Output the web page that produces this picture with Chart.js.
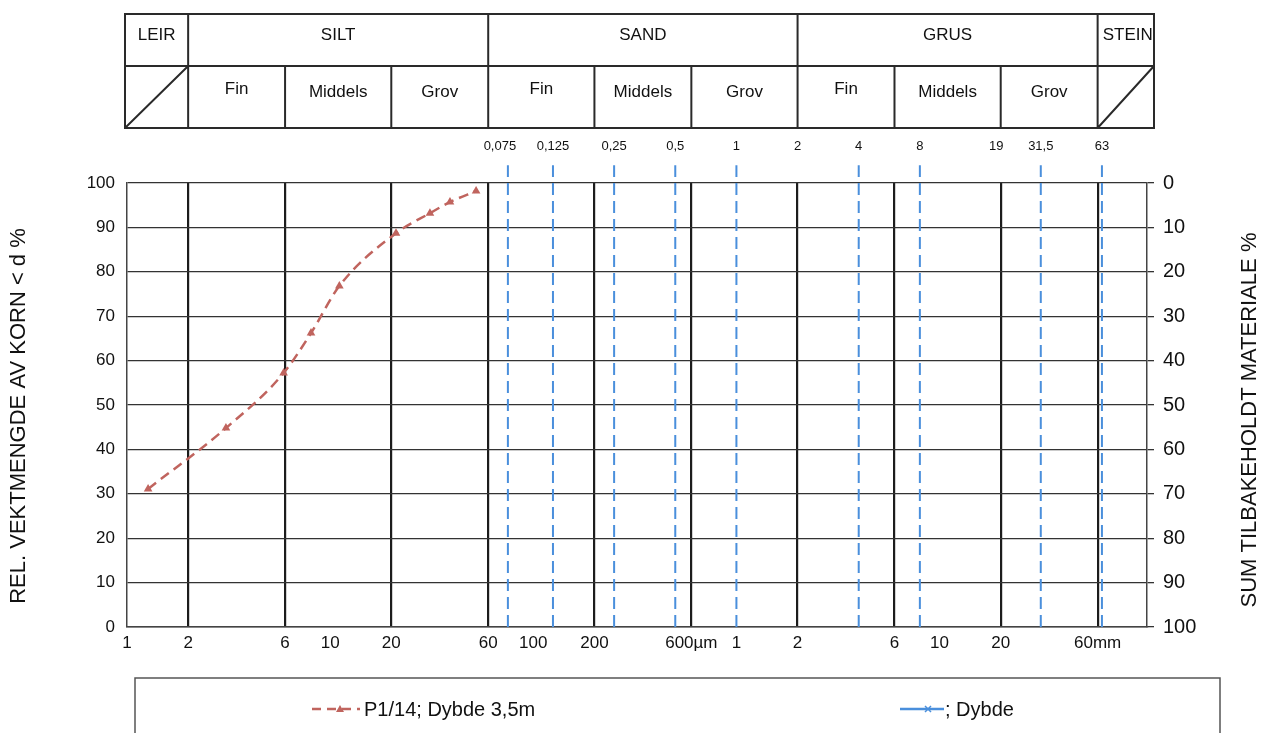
<!DOCTYPE html>
<html lang="no">
<head>
  <meta charset="UTF-8" />
  <title>Kornfordeling P1/14</title>
  <script src="https://cdn.jsdelivr.net/npm/chart.js"></script>
  <style>
    body {
      margin: 0;
      background: #fff;
      font-family: Arial, "Liberation Sans", sans-serif;
    }
    canvas {
      display: block;
    }
  </style>
</head>
<body>
  <canvas id="chart" width="1264" height="733"></canvas>

  <script>
    // grain size in µm, passing weight in %
    const sampleSizes = [1.27, 3.07, 5.9, 8.05, 11.1, 21.1, 31.0, 38.9, 52.3];
    const samplePassing = [31.1, 44.8, 57.2, 66.2, 76.8, 88.7, 93.2, 95.7, 98.2];
    const sampleLabel = 'P1/14; Dybde 3,5m';
    const emptyLabel = '; Dybde';

    // x axis ticks (µm) and their printed labels
    const xTickValues = [1, 2, 6, 10, 20, 60, 100, 200, 600, 1000, 2000, 6000, 10000, 20000, 60000];
    const xTickLabels = ['1', '2', '6', '10', '20', '60', '100', '200', '600µm', '1', '2', '6', '10', '20', '60mm'];

    // fraction boundaries (µm) - solid lines
    const fractionBounds = [2, 6, 20, 60, 200, 600, 2000, 6000, 20000, 60000];

    // sieve sizes (µm) - dashed lines, and the labels printed above the plot
    const sieveSizes = [75, 125, 250, 500, 1000, 4000, 8000, 31500, 63000];
    const sieveLabelSizes = [75, 125, 250, 500, 1000, 2000, 4000, 8000, 19000, 31500, 63000];
    const sieveLabels = ['0,075', '0,125', '0,25', '0,5', '1', '2', '4', '8', '19', '31,5', '63'];

    // header table
    const mainClasses = ['LEIR', 'SILT', 'SAND', 'GRUS', 'STEIN'];
    const mainBounds = [2, 60, 2000, 60000];
    const subClasses = ['Fin', 'Middels', 'Grov'];

    const FONT = 'Arial, "Liberation Sans", sans-serif';
    const BROWN = '#c0645e';
    const BLUE = '#4a8fdc';

    const sieveDatasets = sieveSizes.map(s => ({
      label: 'sikt ' + s,
      data: [{ x: s, y: 0 }, { x: s, y: 104 }],
      showLine: true,
      borderColor: BLUE,
      borderWidth: 2,
      borderDash: [12, 6],
      pointRadius: 0,
      clip: false,
      order: 2
    }));

    const frameLayer = {
      id: 'frameLayer',
      afterDraw(chart) {
        const { ctx, chartArea: area, scales: { x } } = chart;
        const px = v => x.getPixelForValue(v);
        const top = 14, mid = 66, bot = 128;
        const left = area.left - 2, right = area.right + 7;

        ctx.save();
        ctx.strokeStyle = '#2a2a2a';
        ctx.lineWidth = 2;
        ctx.strokeRect(left, top, right - left, bot - top);
        ctx.beginPath();
        ctx.moveTo(left, mid);
        ctx.lineTo(right, mid);
        mainBounds.forEach(b => {
          ctx.moveTo(px(b), top);
          ctx.lineTo(px(b), mid);
        });
        fractionBounds.forEach(b => {
          ctx.moveTo(px(b), mid);
          ctx.lineTo(px(b), bot);
        });
        // diagonals in the clay and stone cells
        ctx.moveTo(left, bot);
        ctx.lineTo(px(2), mid);
        ctx.moveTo(px(60000), bot);
        ctx.lineTo(right, mid);
        ctx.stroke();

        ctx.fillStyle = '#111';
        ctx.textAlign = 'center';
        ctx.textBaseline = 'middle';
        ctx.font = '17px ' + FONT;
        const mEdges = [left, ...mainBounds.map(px), right];
        mainClasses.forEach((t, i) => {
          ctx.fillText(t, (mEdges[i] + mEdges[i + 1]) / 2 + (i === 4 ? 2 : 0), 35);
        });
        const sEdges = fractionBounds.map(px);
        for (let i = 0; i < 9; i++) {
          const t = subClasses[i % 3];
          ctx.fillText(t, (sEdges[i] + sEdges[i + 1]) / 2, t === 'Fin' ? 89 : 92);
        }

        ctx.font = '13px ' + FONT;
        sieveLabelSizes.forEach((s, i) => {
          ctx.fillText(sieveLabels[i], px(s) - (i === 0 ? 8 : 0), 146);
        });

        // axis titles, both reading bottom to top
        ctx.font = '22px ' + FONT;
        ctx.translate(19, 416);
        ctx.rotate(-Math.PI / 2);
        ctx.fillText('REL. VEKTMENGDE AV KORN < d %', 0, 0);
        ctx.setTransform(1, 0, 0, 1, 0, 0);
        ctx.translate(1250, 420);
        ctx.rotate(-Math.PI / 2);
        ctx.fillText('SUM TILBAKEHOLDT MATERIALE %', 0, 0);
        ctx.setTransform(1, 0, 0, 1, 0, 0);

        // legend box
        ctx.strokeStyle = '#555';
        ctx.lineWidth = 1.5;
        ctx.strokeRect(135, 678, 1085, 80);
        const ly = 709;
        ctx.strokeStyle = BROWN;
        ctx.lineWidth = 2.5;
        ctx.setLineDash([9, 6]);
        ctx.beginPath();
        ctx.moveTo(312, ly);
        ctx.lineTo(360, ly);
        ctx.stroke();
        ctx.setLineDash([]);
        ctx.fillStyle = BROWN;
        ctx.beginPath();
        ctx.moveTo(340, ly - 4);
        ctx.lineTo(344, ly + 3);
        ctx.lineTo(336, ly + 3);
        ctx.closePath();
        ctx.fill();

        ctx.strokeStyle = BLUE;
        ctx.beginPath();
        ctx.moveTo(900, ly);
        ctx.lineTo(944, ly);
        ctx.stroke();
        ctx.lineWidth = 1.5;
        ctx.beginPath();
        ctx.moveTo(925, ly - 3);
        ctx.lineTo(931, ly + 3);
        ctx.moveTo(931, ly - 3);
        ctx.lineTo(925, ly + 3);
        ctx.stroke();

        ctx.fillStyle = '#111';
        ctx.textAlign = 'left';
        ctx.font = '20px ' + FONT;
        ctx.fillText(sampleLabel, 364, ly + 1);
        ctx.fillText(emptyLabel, 945, ly + 1);
        ctx.restore();
      }
    };

    new Chart(document.getElementById('chart'), {
      type: 'scatter',
      data: {
        datasets: [
          {
            label: sampleLabel,
            data: sampleSizes.map((s, i) => ({ x: s, y: samplePassing[i] })),
            showLine: true,
            borderColor: BROWN,
            backgroundColor: BROWN,
            borderWidth: 2.5,
            borderDash: [10, 6],
            cubicInterpolationMode: 'monotone',
            pointStyle: 'triangle',
            pointRadius: 5,
            pointBorderWidth: 0,
            order: 1
          },
          ...sieveDatasets
        ]
      },
      options: {
        responsive: false,
        animation: false,
        devicePixelRatio: 1,
        layout: { padding: { top: 183, left: 0, right: 0, bottom: 0 } },
        plugins: {
          legend: { display: false },
          tooltip: { enabled: false }
        },
        scales: {
          x: {
            type: 'logarithmic',
            min: 1,
            max: 105000,
            afterBuildTicks: scale => {
              scale.ticks = xTickValues.map(v => ({ value: v }));
            },
            afterFit: scale => { scale.height = 106; },
            ticks: {
              autoSkip: false,
              maxRotation: 0,
              padding: 6,
              color: '#111',
              font: { family: FONT, size: 17 },
              callback: v => xTickLabels[xTickValues.indexOf(v)] ?? ''
            },
            grid: {
              drawTicks: false,
              color: c => fractionBounds.includes(c.tick && c.tick.value) ? '#1c1c1c' : 'rgba(0,0,0,0)',
              lineWidth: 2.2
            },
            border: { color: '#444', width: 1.5 }
          },
          y: {
            position: 'left',
            min: 0,
            max: 100,
            afterFit: scale => { scale.width = 127; },
            ticks: {
              stepSize: 10,
              padding: 12,
              color: '#111',
              font: { family: FONT, size: 17 }
            },
            grid: { drawTicks: false, color: '#333', lineWidth: 1.3 },
            border: { color: '#444', width: 1.5 }
          },
          y2: {
            position: 'right',
            min: 0,
            max: 100,
            reverse: true,
            afterFit: scale => { scale.width = 117; },
            ticks: {
              stepSize: 10,
              padding: 9,
              color: '#111',
              font: { family: FONT, size: 20 }
            },
            grid: { drawOnChartArea: false, tickLength: 7, color: '#333', lineWidth: 1.3 },
            border: { color: '#444', width: 1.5 }
          }
        }
      },
      plugins: [frameLayer]
    });
  </script>
</body>
</html>
